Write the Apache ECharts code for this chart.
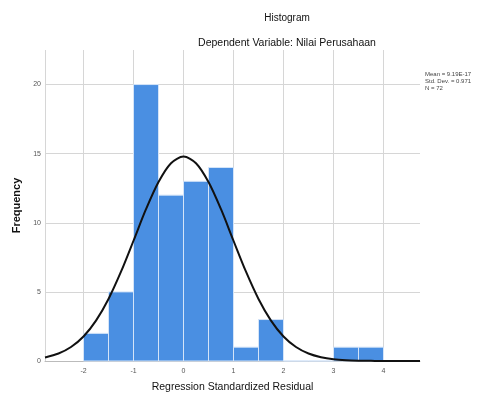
<!DOCTYPE html>
<html>
<head>
<meta charset="utf-8">
<script src="https://cdn.jsdelivr.net/npm/echarts@6/dist/echarts.min.js"></script>
<style>
html,body{margin:0;padding:0;background:#fff;}
#chart{width:480px;height:401px;}
</style>
</head>
<body>
<div id="chart"></div>
<script>
// Histogram bins (Regression Standardized Residual)
var binStart = [-2, -1.5, -1, -0.5, 0, 0.5, 1, 1.5, 2, 2.5, 3, 3.5];
var binEnd   = [-1.5, -1, -0.5, 0, 0.5, 1, 1.5, 2, 2.5, 3, 3.5, 4];
var binCount = [2, 5, 20, 12, 13, 14, 1, 3, 0, 0, 1, 1];

// Normal curve
var curveX = [-2.77, -2.5, -2.25, -2, -1.75, -1.5, -1.25, -1, -0.75, -0.5, -0.25, 0, 0.25, 0.5, 0.75, 1, 1.25, 1.5, 1.75, 2, 2.25, 2.5, 2.75, 3, 3.25, 3.5, 3.75, 4, 4.25, 4.5, 4.73];
var curveY = [0.26, 0.54, 1.01, 1.77, 2.92, 4.49, 6.46, 8.70, 10.98, 12.95, 14.31, 14.79, 14.31, 12.95, 10.98, 8.70, 6.46, 4.49, 2.92, 1.77, 1.01, 0.54, 0.27, 0.12, 0.05, 0.02, 0.01, 0, 0, 0, 0];

var yTicks = [0, 5, 10, 15, 20];
var xTicks = [-2, -1, 0, 1, 2, 3, 4];

var titleText = 'Histogram';
var subText = 'Dependent Variable: Nilai Perusahaan';
var xTitle = 'Regression Standardized Residual';
var yTitle = 'Frequency';
var statLines = ['Mean = 9.19E-17', 'Std. Dev. = 0.971', 'N = 72'];

var bars = binStart.map(function (s, i) { return [s, binEnd[i], binCount[i]]; });
var curve = curveX.map(function (x, i) { return [x, curveY[i]]; });

var chart = echarts.init(document.getElementById('chart'), null, {renderer: 'canvas'});
var font = 'Liberation Sans, Arial, sans-serif';

chart.setOption({
  animation: false,
  backgroundColor: '#fff',
  title: [
    {text: titleText, left: 282, top: 8, textAlign: 'center',
     textStyle: {fontFamily: font, fontSize: 10, fontWeight: 'normal', color: '#111'}},
    {text: subText, left: 282, top: 33, textAlign: 'center',
     textStyle: {fontFamily: font, fontSize: 10.5, fontWeight: 'normal', color: '#111'}}
  ],
  grid: {left: 45, right: 60, top: 50, bottom: 40, containLabel: false},
  xAxis: {
    type: 'value', min: -2.77, max: 4.73, minInterval: 1, maxInterval: 1, splitNumber: 7,
    name: xTitle, nameLocation: 'middle', nameGap: 21,
    nameTextStyle: {fontFamily: font, fontSize: 10.5, color: '#111'},
    axisLine: {show: true, onZero: false, lineStyle: {color: '#bbb', width: 1}},
    axisTick: {show: false},
    axisLabel: {fontFamily: font, fontSize: 7, color: '#555', margin: 7,
      showMinLabel: false, showMaxLabel: false,
      formatter: function (v) { return xTicks.indexOf(Math.round(v * 100) / 100) >= 0 ? String(Math.round(v)) : ''; }},
    splitLine: {show: true, showMinLine: true, showMaxLine: false, lineStyle: {color: '#d6d6d6', width: 1}}
  },
  yAxis: {
    type: 'value', min: 0, max: 22.5, interval: 5,
    name: yTitle, nameLocation: 'middle', nameGap: 10,
    nameTextStyle: {fontFamily: font, fontSize: 11, fontWeight: 'bold', color: '#111'},
    axisLine: {show: false},
    axisTick: {show: false},
    axisLabel: {fontFamily: font, fontSize: 7, color: '#555', margin: 4,
      showMaxLabel: false,
      formatter: function (v) { return yTicks.indexOf(v) >= 0 ? String(v) : ''; }},
    splitLine: {show: true, showMinLine: false, showMaxLine: false, lineStyle: {color: '#d6d6d6', width: 1}}
  },
  series: [
    {
      type: 'custom',
      data: bars,
      encode: {x: [0, 1], y: 2},
      renderItem: function (params, api) {
        var p0 = api.coord([api.value(0), api.value(2)]);
        var p1 = api.coord([api.value(1), 0]);
        return {
          type: 'rect',
          shape: {x: p0[0], y: p0[1], width: p1[0] - p0[0], height: p1[1] - p0[1]},
          style: {fill: '#4a8fe2', stroke: '#d4e4f8', lineWidth: 1}
        };
      },
      z: 2
    },
    {
      type: 'line',
      data: curve,
      smooth: 0.3,
      showSymbol: false,
      clip: true,
      lineStyle: {color: '#111', width: 2},
      z: 3
    }
  ],
  graphic: statLines.map(function (t, i) {
    return {type: 'text', left: 425, top: 71 + i * 7,
      style: {text: t, fontFamily: font, fontSize: 6, fill: '#444'}};
  })
});
</script>
</body>
</html>
